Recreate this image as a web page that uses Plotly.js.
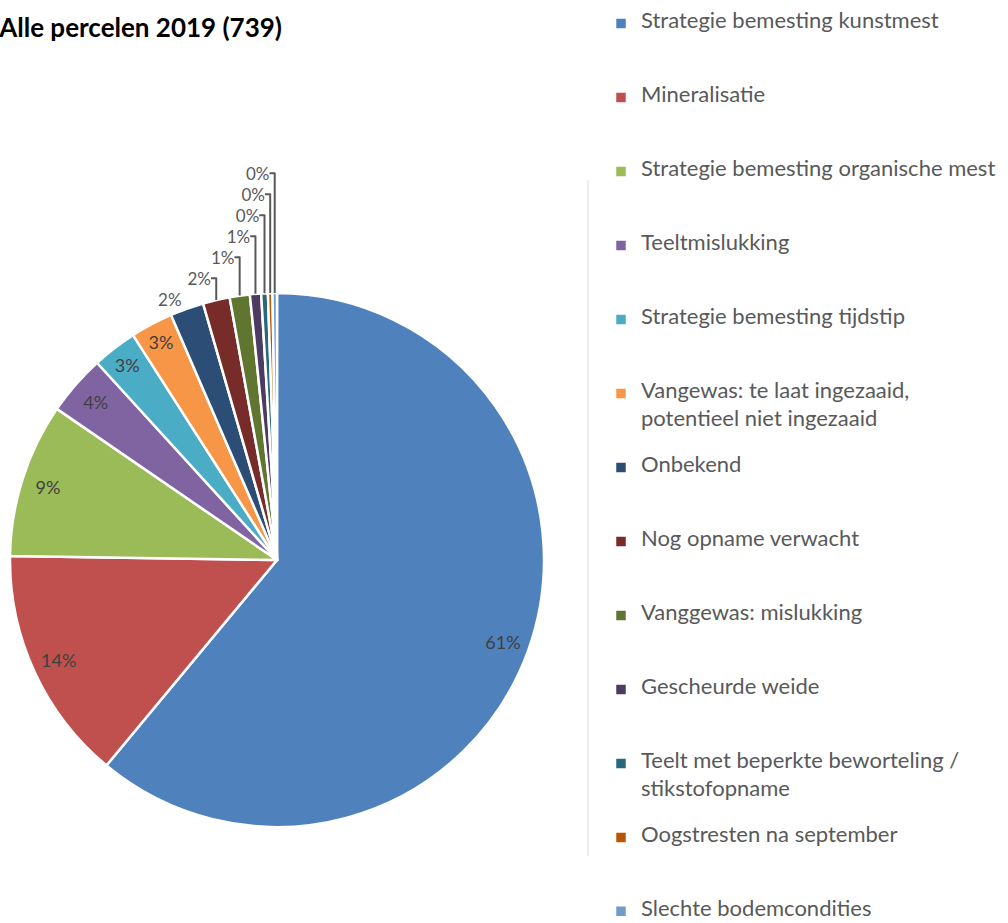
<!DOCTYPE html>
<html>
<head>
<meta charset="utf-8">
<script src="https://cdn.plot.ly/plotly-3.0.1.min.js"></script>
<style>html,body{margin:0;padding:0;background:#fff;overflow:hidden;}</style>
</head>
<body>
<div id="chart" style="width:1008px;height:940px;"></div>
<script>
// Data (counts; total 739)
const categories = [
  "Strategie bemesting kunstmest",
  "Mineralisatie",
  "Strategie bemesting organische mest",
  "Teeltmislukking",
  "Strategie bemesting tijdstip",
  "Vangewas: te laat ingezaaid,<br>potentieel niet ingezaaid",
  "Onbekend",
  "Nog opname verwacht",
  "Vanggewas: mislukking",
  "Gescheurde weide",
  "Teelt met beperkte beworteling /<br>stikstofopname",
  "Oogstresten na september",
  "Slechte bodemcondities"
];
const counts = [451, 105, 69, 27, 20, 19, 15, 12, 9, 5, 3, 2, 2];
const colors = ["#4F81BD","#C0504D","#9BBB59","#8064A2","#4BACC6","#F79646",
                "#2C4D75","#772C2A","#5F7530","#4D3B62","#276A7C","#B65708","#729ACA"];
const titleText = "Alle percelen 2019 (739)";

const W = 1008, H = 940; // canvas slightly taller than the window so the legend fits

// legend labels: each entry spans 5 thin layout lines (text on lines 1 and 3),
// so entries are evenly spaced and wrapped entries get a wider line gap
const legendLabels = categories.map((c, i) => {
  const parts = c.split("<br>").map(p => '<span style="font-size:22px">' + p + '</span>');
  const body = parts.join("<br>&nbsp;<br>");
  const used = parts.length * 2 - 1;
  const pad = (i === categories.length - 1) ? 1 : 5 - used;
  return body + "<br>&nbsp;".repeat(pad);
});
const bigSlice = counts.map((v, i) => i < 6);
const pieDomain = {x: [10/W, 544/W], y: [(H - 827)/H, (H - 293)/H]};

// main pie: slices + outside labels of the small slices
const trace = {
  type: "pie",
  labels: legendLabels,
  values: counts,
  sort: false,
  direction: "clockwise",
  rotation: 0,
  marker: {colors: colors, line: {color: "#ffffff", width: 2.5}},
  texttemplate: "%{percent:.0%}",
  textposition: bigSlice.map(b => b ? "none" : "outside"),
  outsidetextfont: {family: "Lato, sans-serif", size: 17, color: "#595959"},
  hoverinfo: "label+value+percent",
  domain: pieDomain
};

// transparent ring on top that carries the inside labels near the rim
const labelRing = {
  type: "pie",
  labels: legendLabels,
  values: counts,
  sort: false,
  direction: "clockwise",
  rotation: 0,
  hole: 0.8,
  showlegend: false,
  marker: {colors: counts.map(() => "rgba(0,0,0,0)"), line: {width: 0}},
  texttemplate: "%{percent:.0%}",
  textposition: bigSlice.map(b => b ? "inside" : "none"),
  insidetextorientation: "horizontal",
  insidetextfont: {family: "Lato, sans-serif", size: 18, color: "#404040"},
  hoverinfo: "skip",
  domain: pieDomain
};

const layout = {
  width: W, height: H,
  margin: {l: 0, r: 0, t: 0, b: 0},
  paper_bgcolor: "#ffffff",
  font: {family: "Lato, sans-serif", color: "#595959"},
  title: {
    text: "<b>" + titleText + "</b>",
    font: {family: "Lato, sans-serif", size: 26, color: "#000000"},
    x: 282/W, xanchor: "right", xref: "paper",
    y: 1 - 28/H, yanchor: "middle", yref: "paper"
  },
  showlegend: true,
  legend: {
    x: 601/W, xanchor: "left",
    y: 1 - 14/H, yanchor: "top",
    valign: "top",
    font: {family: "Lato, sans-serif", size: 10.92, color: "#595959"},
    bgcolor: "rgba(0,0,0,0)",
    traceorder: "normal"
  },
  shapes: [{
    type: "line", xref: "paper", yref: "paper",
    x0: 588/W, x1: 588/W, y0: 1 - 180/H, y1: 1 - 856/H,
    line: {color: "#D9D9D9", width: 1}
  }]
};

Plotly.newPlot("chart", [trace, labelRing], layout, {displayModeBar: false, staticPlot: true});
</script>
</body>
</html>
